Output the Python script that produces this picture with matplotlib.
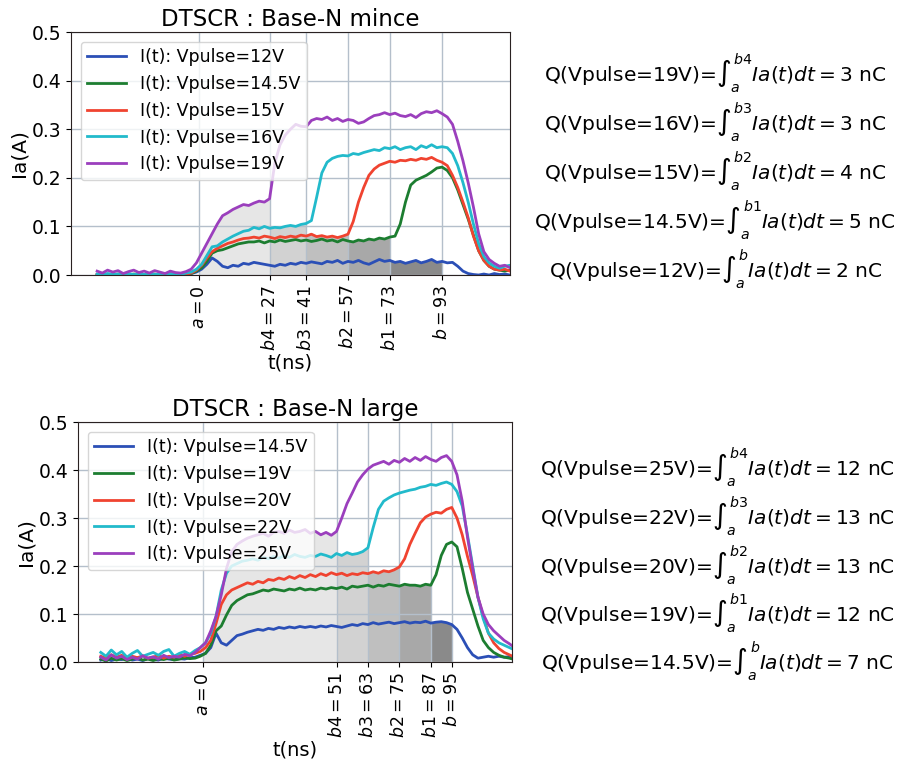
import numpy as np
import matplotlib
matplotlib.use("Agg")
import matplotlib.pyplot as plt

# ---------------- data ----------------
t = np.arange(-39, 121, 2)  # ns, 80 samples

# Top chart : Base-N mince
top_labels = ["I(t): Vpulse=12V", "I(t): Vpulse=14.5V", "I(t): Vpulse=15V",
              "I(t): Vpulse=16V", "I(t): Vpulse=19V"]
top_12 = [0.001, 0.000, 0.002, 0.001, 0.000, 0.001, 0.002, 0.000, 0.001, 0.000,
          0.002, 0.001, 0.000, 0.001, 0.002, 0.000, 0.001, 0.000, 0.003, 0.006,
          0.012, 0.022, 0.035, 0.028, 0.018, 0.015, 0.020, 0.018, 0.024, 0.022,
          0.026, 0.024, 0.022, 0.020, 0.018, 0.022, 0.020, 0.024, 0.022, 0.026,
          0.024, 0.027, 0.025, 0.023, 0.028, 0.026, 0.030, 0.024, 0.028, 0.026,
          0.030, 0.025, 0.022, 0.027, 0.032, 0.028, 0.030, 0.026, 0.028, 0.024,
          0.027, 0.030, 0.025, 0.028, 0.032, 0.026, 0.028, 0.025, 0.026, 0.018,
          0.008, 0.003, 0.001, 0.000, 0.002, 0.000, 0.003, 0.001, 0.002, 0.000]
top_145 = [0.000, 0.002, 0.001, 0.000, 0.002, 0.001, 0.000, 0.002, 0.001, 0.000,
           0.001, 0.002, 0.000, 0.001, 0.002, 0.000, 0.001, 0.002, 0.003, 0.008,
           0.015, 0.028, 0.045, 0.050, 0.052, 0.056, 0.060, 0.064, 0.066, 0.068,
           0.068, 0.070, 0.066, 0.070, 0.068, 0.072, 0.069, 0.071, 0.073, 0.070,
           0.072, 0.069, 0.071, 0.074, 0.070, 0.072, 0.068, 0.073, 0.070, 0.068,
           0.072, 0.070, 0.074, 0.072, 0.076, 0.074, 0.078, 0.080, 0.105, 0.150,
           0.185, 0.195, 0.200, 0.205, 0.212, 0.220, 0.222, 0.215, 0.200, 0.175,
           0.145, 0.115, 0.082, 0.050, 0.030, 0.018, 0.012, 0.010, 0.008, 0.010]
top_15 = [0.001, 0.003, 0.000, 0.002, 0.001, 0.003, 0.001, 0.000, 0.002, 0.001,
          0.002, 0.000, 0.003, 0.001, 0.002, 0.001, 0.003, 0.002, 0.004, 0.010,
          0.020, 0.035, 0.048, 0.055, 0.060, 0.065, 0.068, 0.072, 0.075, 0.076,
          0.078, 0.076, 0.080, 0.078, 0.075, 0.079, 0.077, 0.080, 0.078, 0.082,
          0.080, 0.084, 0.079, 0.081, 0.078, 0.080, 0.077, 0.080, 0.084, 0.110,
          0.150, 0.180, 0.205, 0.218, 0.226, 0.230, 0.234, 0.232, 0.236, 0.235,
          0.238, 0.236, 0.240, 0.238, 0.242, 0.236, 0.232, 0.225, 0.205, 0.180,
          0.150, 0.118, 0.080, 0.050, 0.030, 0.018, 0.012, 0.010, 0.012, 0.008]
top_16 = [0.002, 0.000, 0.003, 0.001, 0.002, 0.000, 0.003, 0.001, 0.002, 0.001,
          0.003, 0.001, 0.002, 0.000, 0.002, 0.003, 0.001, 0.004, 0.006, 0.012,
          0.022, 0.040, 0.058, 0.060, 0.068, 0.074, 0.080, 0.085, 0.090, 0.092,
          0.098, 0.095, 0.100, 0.096, 0.098, 0.097, 0.100, 0.102, 0.100, 0.104,
          0.106, 0.112, 0.160, 0.210, 0.232, 0.240, 0.244, 0.246, 0.245, 0.250,
          0.248, 0.252, 0.255, 0.258, 0.256, 0.262, 0.260, 0.264, 0.258, 0.262,
          0.264, 0.258, 0.266, 0.262, 0.268, 0.262, 0.264, 0.262, 0.250, 0.225,
          0.190, 0.150, 0.105, 0.065, 0.038, 0.025, 0.018, 0.014, 0.018, 0.020]
top_19 = [0.008, 0.004, 0.010, 0.006, 0.009, 0.003, 0.007, 0.010, 0.005, 0.008,
          0.004, 0.009, 0.006, 0.003, 0.008, 0.005, 0.004, 0.007, 0.012, 0.025,
          0.045, 0.065, 0.085, 0.105, 0.122, 0.128, 0.135, 0.140, 0.145, 0.143,
          0.148, 0.152, 0.150, 0.157, 0.230, 0.268, 0.288, 0.300, 0.310, 0.306,
          0.305, 0.318, 0.322, 0.320, 0.325, 0.318, 0.322, 0.316, 0.320, 0.318,
          0.312, 0.315, 0.322, 0.328, 0.330, 0.334, 0.330, 0.333, 0.328, 0.326,
          0.330, 0.324, 0.332, 0.336, 0.334, 0.338, 0.332, 0.325, 0.310, 0.275,
          0.235, 0.190, 0.140, 0.085, 0.048, 0.032, 0.024, 0.018, 0.020, 0.015]
top_series = [top_12, top_145, top_15, top_16, top_19]
top_bounds = [93, 73, 57, 41, 27]              # b, b1, b2, b3, b4
top_ticks = [0, 27, 41, 57, 73, 93]
top_ticklabels = [r"$a = 0$", r"$b4 = 27$", r"$b3 = 41$", r"$b2 = 57$",
                  r"$b1 = 73$", r"$b = 93$"]
top_eq_v = ["19V", "16V", "15V", "14.5V", "12V"]
top_eq_b = ["b4", "b3", "b2", "b1", "b"]
top_eq_q = [3, 3, 4, 5, 2]

# Bottom chart : Base-N large
bot_labels = ["I(t): Vpulse=14.5V", "I(t): Vpulse=19V", "I(t): Vpulse=20V",
              "I(t): Vpulse=22V", "I(t): Vpulse=25V"]
bot_145 = [0.004, 0.007, 0.003, 0.006, 0.005, 0.008, 0.004, 0.006, 0.003, 0.007,
           0.005, 0.004, 0.008, 0.006, 0.005, 0.007, 0.006, 0.009, 0.010, 0.014,
           0.018, 0.030, 0.060, 0.040, 0.035, 0.045, 0.055, 0.058, 0.062, 0.065,
           0.068, 0.066, 0.070, 0.068, 0.072, 0.070, 0.073, 0.071, 0.074, 0.072,
           0.074, 0.072, 0.075, 0.073, 0.076, 0.074, 0.072, 0.075, 0.078, 0.076,
           0.080, 0.078, 0.082, 0.079, 0.081, 0.083, 0.080, 0.082, 0.084, 0.081,
           0.083, 0.082, 0.085, 0.081, 0.083, 0.084, 0.082, 0.078, 0.068, 0.050,
           0.030, 0.015, 0.008, 0.010, 0.012, 0.010, 0.012, 0.010, 0.011, 0.009]
bot_19 = [0.006, 0.002, 0.008, 0.004, 0.007, 0.003, 0.006, 0.009, 0.004, 0.006,
          0.003, 0.007, 0.005, 0.008, 0.004, 0.006, 0.009, 0.007, 0.008, 0.012,
          0.018, 0.035, 0.065, 0.075, 0.098, 0.118, 0.128, 0.134, 0.140, 0.142,
          0.146, 0.150, 0.148, 0.152, 0.150, 0.148, 0.152, 0.150, 0.154, 0.150,
          0.152, 0.150, 0.154, 0.152, 0.155, 0.153, 0.156, 0.152, 0.158, 0.156,
          0.158, 0.160, 0.156, 0.160, 0.158, 0.162, 0.160, 0.158, 0.162, 0.160,
          0.160, 0.158, 0.162, 0.160, 0.182, 0.222, 0.245, 0.250, 0.240, 0.195,
          0.145, 0.110, 0.075, 0.045, 0.030, 0.020, 0.014, 0.010, 0.008, 0.005]
bot_20 = [0.012, 0.008, 0.015, 0.010, 0.014, 0.006, 0.012, 0.009, 0.013, 0.008,
          0.010, 0.014, 0.008, 0.012, 0.010, 0.015, 0.012, 0.016, 0.018, 0.022,
          0.030, 0.045, 0.080, 0.120, 0.140, 0.150, 0.155, 0.160, 0.165, 0.162,
          0.168, 0.165, 0.172, 0.170, 0.175, 0.172, 0.178, 0.174, 0.180, 0.176,
          0.182, 0.178, 0.184, 0.180, 0.186, 0.182, 0.185, 0.180, 0.184, 0.182,
          0.186, 0.184, 0.188, 0.185, 0.190, 0.188, 0.192, 0.198, 0.215, 0.245,
          0.268, 0.290, 0.302, 0.308, 0.312, 0.310, 0.318, 0.322, 0.300, 0.265,
          0.220, 0.180, 0.135, 0.095, 0.060, 0.040, 0.028, 0.020, 0.015, 0.010]
bot_22 = [0.020, 0.012, 0.025, 0.015, 0.022, 0.010, 0.018, 0.024, 0.012, 0.016,
          0.020, 0.014, 0.022, 0.026, 0.012, 0.018, 0.022, 0.016, 0.024, 0.030,
          0.040, 0.060, 0.095, 0.150, 0.185, 0.200, 0.205, 0.210, 0.212, 0.215,
          0.212, 0.218, 0.215, 0.220, 0.216, 0.222, 0.218, 0.224, 0.220, 0.218,
          0.222, 0.220, 0.225, 0.222, 0.218, 0.226, 0.222, 0.228, 0.224, 0.226,
          0.230, 0.238, 0.280, 0.318, 0.335, 0.342, 0.348, 0.352, 0.355, 0.358,
          0.360, 0.364, 0.366, 0.370, 0.368, 0.372, 0.375, 0.370, 0.355, 0.325,
          0.265, 0.200, 0.135, 0.090, 0.060, 0.048, 0.040, 0.035, 0.030, 0.025]
bot_25 = [0.010, 0.004, 0.015, 0.008, 0.012, 0.005, 0.010, 0.006, 0.013, 0.008,
          0.011, 0.006, 0.014, 0.009, 0.012, 0.010, 0.016, 0.013, 0.020, 0.030,
          0.040, 0.065, 0.095, 0.140, 0.195, 0.230, 0.245, 0.252, 0.258, 0.262,
          0.265, 0.268, 0.262, 0.270, 0.272, 0.268, 0.275, 0.270, 0.272, 0.276,
          0.268, 0.272, 0.265, 0.270, 0.264, 0.272, 0.300, 0.330, 0.352, 0.375,
          0.390, 0.402, 0.410, 0.414, 0.418, 0.412, 0.420, 0.416, 0.424, 0.418,
          0.426, 0.420, 0.428, 0.422, 0.418, 0.426, 0.430, 0.418, 0.390, 0.335,
          0.260, 0.195, 0.135, 0.100, 0.078, 0.065, 0.055, 0.045, 0.038, 0.030]
bot_series = [bot_145, bot_19, bot_20, bot_22, bot_25]
bot_bounds = [95, 87, 75, 63, 51]
bot_ticks = [0, 51, 63, 75, 87, 95]
bot_ticklabels = [r"$a = 0$", r"$b4 = 51$", r"$b3 = 63$", r"$b2 = 75$",
                  r"$b1 = 87$", r"$b = 95$"]
bot_eq_v = ["25V", "22V", "20V", "19V", "14.5V"]
bot_eq_b = ["b4", "b3", "b2", "b1", "b"]
bot_eq_q = [12, 13, 13, 12, 7]

# ---------------- style ----------------
colors = ["#2b4fb6", "#1c7d30", "#f04330", "#22bacb", "#9b3fbd"]
fill_grays = ["#8a8a8a", "#a8a8a8", "#bfbfbf", "#d2d2d2", "#e6e6e6"]
grid_color = "#b4bfcb"

fig = plt.figure(figsize=(8.98, 7.65), dpi=100)


def draw(ax, series, labels, bounds, ticks, ticklabels, title, xlim):
    tt = t
    for k, (y, b) in enumerate(zip(series, bounds)):
        y = np.asarray(y)
        m = (tt >= -1) & (tt <= b)
        ax.fill_between(np.clip(tt[m], 0, b), y[m], color=fill_grays[k],
                        linewidth=0, zorder=1)
    for y, lab, c in zip(series, labels, colors):
        ax.plot(tt, y, color=c, lw=2.0, label=lab, zorder=2)
    ax.set_xlim(*xlim)
    ax.set_ylim(0, 0.5)
    ax.set_yticks(np.arange(0, 0.51, 0.1))
    ax.set_xticks(ticks)
    ax.set_xticklabels(ticklabels, rotation=90, fontsize=12.5)
    ax.tick_params(axis="y", labelsize=13.5)
    ax.grid(True, color=grid_color, lw=1.0)
    ax.set_title(title, fontsize=16.5, pad=4)
    ax.set_ylabel("Ia(A)", fontsize=14.5, labelpad=2)
    ax.set_xlabel("t(ns)", fontsize=14, labelpad=2)
    for s in ax.spines.values():
        s.set_color("#2a2222")
    ax.legend(loc="upper left", fontsize=12.5, framealpha=0.8,
              handlelength=2.2, labelspacing=0.5, borderaxespad=0.55)


ax1 = fig.add_axes([71 / 898, 1 - 275 / 765, 439 / 898, 243 / 765])
draw(ax1, top_series, top_labels, top_bounds, top_ticks, top_ticklabels,
     "DTSCR : Base-N mince", (-49, 119))

ax2 = fig.add_axes([78 / 898, 1 - 662 / 765, 434 / 898, 240 / 765])
draw(ax2, bot_series, bot_labels, bot_bounds, bot_ticks, bot_ticklabels,
     "DTSCR : Base-N large", (-47.7, 118))

top_y = [73, 122, 171, 220, 269]
for v, b, q, y in zip(top_eq_v, top_eq_b, top_eq_q, top_y):
    fig.text(715 / 898, 1 - y / 765,
             r"Q(Vpulse=%s)=$\int_a^{%s} Ia(t)dt = %d$ nC" % (v, b, q),
             ha="center", va="center", fontsize=14.5)

bot_y = [467, 516, 565, 613, 661]
for v, b, q, y in zip(bot_eq_v, bot_eq_b, bot_eq_q, bot_y):
    fig.text(717 / 898, 1 - y / 765,
             r"Q(Vpulse=%s)=$\int_a^{%s} Ia(t)dt = %d$ nC" % (v, b, q),
             ha="center", va="center", fontsize=14.5)

fig.savefig("out.png", dpi=100)
